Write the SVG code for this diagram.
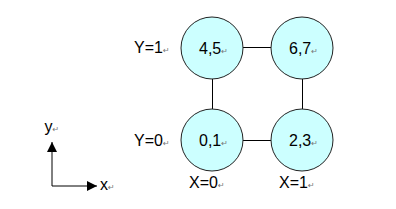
<svg xmlns="http://www.w3.org/2000/svg" width="396" height="209" viewBox="0 0 396 209">
<defs>
<style>
.node{fill:#CCFFFF;stroke:#222;stroke-width:1}
.t{font-family:"Liberation Sans",Arial,sans-serif;font-size:16px;fill:#000}
.m{font-family:"DejaVu Sans",sans-serif;font-size:8px;fill:#777}
.edge{stroke:#000;stroke-width:1;fill:none}
</style>
<marker id="ah" viewBox="0 0 10 10" refX="10" refY="5" markerWidth="10" markerHeight="10" markerUnits="userSpaceOnUse" orient="auto">
<path d="M0,0 L10,5 L0,10 Z" fill="#000"/>
</marker>
</defs>
<rect width="396" height="209" fill="#fff"/>
<g id="connectors">
<line class="edge" x1="243" y1="47.5" x2="271" y2="47.5"/>
<line class="edge" x1="243" y1="140.5" x2="271" y2="140.5"/>
<line class="edge" x1="212.5" y1="79" x2="212.5" y2="109"/>
<line class="edge" x1="302.5" y1="79" x2="302.5" y2="109"/>
</g>
<g id="n45"><circle class="node" cx="212" cy="48" r="31"/><text class="t" x="199" y="53.5">4,5<tspan class="m">↵</tspan></text></g>
<g id="n67"><circle class="node" cx="302" cy="48" r="31"/><text class="t" x="289" y="53.5">6,7<tspan class="m">↵</tspan></text></g>
<g id="n01"><circle class="node" cx="212" cy="140" r="31"/><text class="t" x="199" y="145.5">0,1<tspan class="m">↵</tspan></text></g>
<g id="n23"><circle class="node" cx="302" cy="140" r="31"/><text class="t" x="289" y="145.5">2,3<tspan class="m">↵</tspan></text></g>
<g id="labels">
<text class="t" x="134" y="52.5">Y=1<tspan class="m">↵</tspan></text>
<text class="t" x="134" y="145.5">Y=0<tspan class="m">↵</tspan></text>
<text class="t" x="189" y="188">X=0<tspan class="m">↵</tspan></text>
<text class="t" x="279" y="188">X=1<tspan class="m">↵</tspan></text>
</g>
<g id="axes">
<line class="edge" x1="52" y1="186" x2="52" y2="142" marker-end="url(#ah)"/>
<line class="edge" x1="52" y1="186" x2="97" y2="186" marker-end="url(#ah)"/>
<text class="t" x="44.5" y="132">y<tspan class="m">↵</tspan></text>
<text class="t" x="100" y="190">x<tspan class="m">↵</tspan></text>
</g>
</svg>
